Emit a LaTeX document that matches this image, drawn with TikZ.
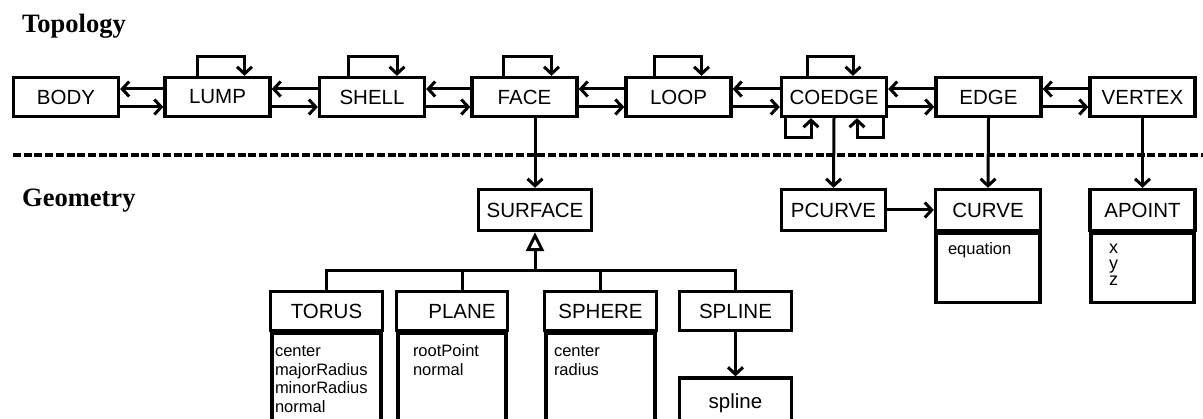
\documentclass[tikz,border=0pt]{standalone}
\usepackage{fontspec}
\setmainfont{Liberation Serif}
\setsansfont{Liberation Sans}
\usetikzlibrary{arrows.meta, positioning}
\tikzset{
    box/.style={
        draw,
        line width=3.3pt,
        minimum width=105pt,
        minimum height=39pt,
        inner sep=0pt,
        font=\sffamily\fontsize{20.5}{24}\selectfont
    },
    attrbox/.style={
        draw,
        line width=3.3pt,
        inner ysep=0pt,
        align=left,
        font=\sffamily\fontsize{16.5}{18.5}\selectfont
    },
    title/.style={
        anchor=base west,
        inner sep=0pt,
        font=\rmfamily\bfseries\fontsize{26.5}{30}\selectfont
    },
    link/.style={
        line width=3pt,
        -{Straight Barb[length=7pt,width=15pt]}
    },
    inherit/.style={
        line width=3pt,
        -{Triangle[open,length=19pt,width=18pt]}
    },
    plain/.style={line width=3pt},
    divider/.style={line width=4pt, dash pattern=on 8pt off 2.7pt}
}
\begin{document}
\begin{tikzpicture}[x=1pt, y=1pt]
        \useasboundingbox (0,0) rectangle (1203,419);
        \clip (0,0) rectangle (1203,419);

        % Section titles and separator
        \node[title] (topo) at (22,386) {Topology};
        \node[title] (geom) at (22,212) {Geometry};
        \coordinate (sepL) at (13,264);
        \coordinate (sepR) at (1203,264);
        \draw[divider] (sepL) -- (sepR);

        % Topology row
        \node[box] (body)   at (66,322)     {BODY};
        \node[box] (lump)   at (217.5,322)  {LUMP};
        \node[box] (shell)  at (372,322)    {SHELL};
        \node[box] (face)   at (524.5,322)  {FACE};
        \node[box] (loop)   at (678.5,322)  {LOOP};
        \node[box] (coedge) at (834,322)    {COEDGE};
        \node[box] (edge)   at (988.5,322)  {EDGE};
        \node[box] (vertex) at (1142.5,322) {VERTEX};

        \foreach \a/\b in {body/lump, lump/shell, shell/face, face/loop,
                           loop/coedge, coedge/edge, edge/vertex} {
            \draw[link] ([yshift=8pt]\b.west) -- ([yshift=8pt]\a.east);
            \draw[link] ([yshift=-10pt]\a.east) -- ([yshift=-10pt]\b.west);
        }

        % self references
        \foreach \n/\l/\r in {lump/-20/27, shell/-24/25, face/-21/27,
                              loop/-24/23, coedge/-27/19} {
            \draw[link] ([xshift=\l pt]\n.north) -- ++(0,19) -| ([xshift=\r pt]\n.north);
        }
        \draw[link] ([xshift=-49pt]coedge.south) -- ++(0,-19) -| ([xshift=-23pt]coedge.south);
        \draw[link] ([xshift=49pt]coedge.south) -- ++(0,-19) -| ([xshift=23pt]coedge.south);

        % Geometry row
        \node[box, minimum width=113pt, minimum height=41pt] (surface) at (535,209) {SURFACE};
        \node[box, minimum width=104pt, minimum height=41pt] (pcurve) at (833.5,209) {PCURVE};
        \node[box, minimum height=41pt] (curve) at (988,209) {CURVE};
        \node[attrbox, below=0pt of curve, inner xsep=12pt, text width=80pt,
              text height=21pt, text depth=48pt] (curveattr) {equation};
        \node[box, minimum height=41pt] (apoint) at (1142.5,209) {APOINT};
        \node[attrbox, below=0pt of apoint, inner xsep=18pt, text width=67pt,
              text height=20pt, text depth=49pt,
              font=\sffamily\fontsize{18}{16}\selectfont] (apointattr) {x\\y\\z};

        \draw[link] (surface.north |- face.south) -- (surface.north);
        \draw[link] (coedge.south) -- (pcurve.north);
        \draw[link] (edge.south) -- (curve.north);
        \draw[link] (apoint.north |- vertex.south) -- (apoint.north);
        \draw[link] (pcurve.east) -- (curve.west);

        % Surface subclasses
        \node[box, minimum width=112pt] (torus) at (326.5,108) {TORUS};
        \node[attrbox, below=0pt of torus, inner xsep=3pt, text width=103pt,
              text height=23pt, text depth=100pt] (torusattr)
              {center\\majorRadius\\minorRadius\\normal};
        \node[box, minimum width=111pt] (plane) at (452,108) {\hspace*{20pt}PLANE};
        \node[attrbox, below=0pt of plane, inner xsep=15pt, text width=78pt,
              text height=23pt, text depth=100pt] (planeattr)
              {rootPoint\\normal};
        \node[box, minimum width=112pt] (sphere) at (600.5,108) {SPHERE};
        \node[attrbox, below=0pt of sphere, inner xsep=8pt, text width=93pt,
              text height=23pt, text depth=100pt] (sphereattr)
              {center\\radius};
        \node[box, minimum width=112pt] (splinehd) at (735.5,108) {SPLINE};
        \node[box, minimum width=112pt, minimum height=50pt] (spline) at (735.5,16) {spline};
        \draw[link] (splinehd.south) -- (spline.north);

        \coordinate (bus) at ([yshift=-38pt]surface.south);
        \coordinate (planetop) at ([xshift=10pt]plane.north);
        \draw[inherit] (bus) -- (surface.south);
        \draw[plain] (torus.north) |- (bus) -| (splinehd.north);
        \draw[plain] (planetop) -- (planetop |- bus);
        \draw[plain] (sphere.north) -- (sphere.north |- bus);
\end{tikzpicture}
\end{document}
